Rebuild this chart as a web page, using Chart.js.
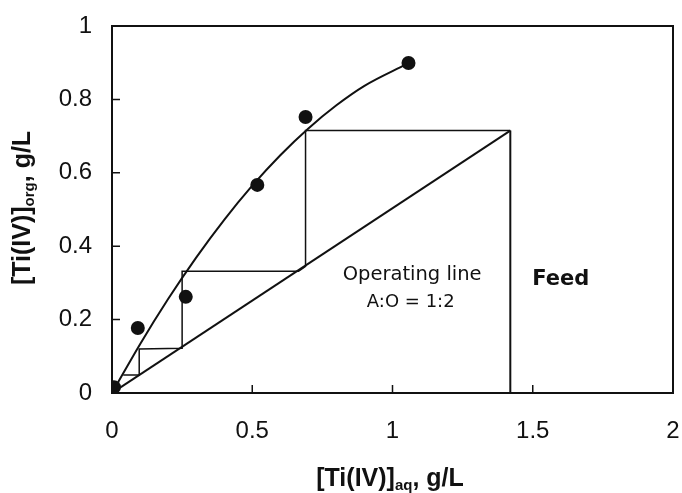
<!DOCTYPE html>
<html>
<head>
<meta charset="utf-8">
<script src="https://cdn.jsdelivr.net/npm/chart.js@4/dist/chart.umd.min.js"></script>
<style>
  html, body { margin: 0; padding: 0; background: #fff; }
  #wrap { width: 682px; height: 493px; position: relative; }
</style>
</head>
<body>
<div id="wrap"><canvas id="c" width="682" height="493"></canvas></div>
<script>
// ---- data ----
const pointsX = [0.007, 0.092, 0.263, 0.518, 0.69, 1.057];
const pointsY = [0.016, 0.177, 0.262, 0.567, 0.752, 0.899];

const curveX = [0, 0.1, 0.2, 0.3, 0.4, 0.5, 0.6, 0.7, 0.8, 0.9, 1.05];
const curveY = [0, 0.133, 0.256, 0.369, 0.472, 0.565, 0.648, 0.721, 0.784, 0.837, 0.896];

const opLineX = [0, 1.42];
const opLineY = [0, 0.715];

const stepsX = [1.42, 0.69, 0.69, 0.665, 0.25, 0.25, 0.097, 0.097, 0.04];
const stepsY = [0.715, 0.715, 0.345, 0.332, 0.332, 0.122, 0.12, 0.049, 0.049];

const feedX = [1.42, 1.42];
const feedY = [0.715, 0];

const xTicks = [0, 0.5, 1, 1.5, 2];
const xTickLabels = ["0", "0.5", "1", "1.5", "2"];
const yTicks = [0, 0.2, 0.4, 0.6, 0.8, 1];
const yTickLabels = ["0", "0.2", "0.4", "0.6", "0.8", "1"];

const xTitle = ["[Ti(IV)]", "aq", ", g/L"];
const yTitle = ["[Ti(IV)]", "org", ", g/L"];
const opLabel = ["Operating line", "A:O = 1:2"];
const feedLabel = "Feed";

const pts = (xs, ys) => xs.map((x, i) => ({ x: x, y: ys[i] }));

const overlay = {
  id: 'overlay',
  afterDraw(chart) {
    const ctx = chart.ctx;
    const a = chart.chartArea;
    const sx = chart.scales.x, sy = chart.scales.y;
    ctx.save();
    ctx.strokeStyle = '#111';
    ctx.lineWidth = 2;
    ctx.strokeRect(a.left, a.top, a.right - a.left, a.bottom - a.top);
    // inner tick marks
    ctx.lineWidth = 1.5;
    ctx.beginPath();
    xTicks.slice(1, -1).forEach(v => {
      const px = sx.getPixelForValue(v);
      ctx.moveTo(px, a.bottom); ctx.lineTo(px, a.bottom - 8);
    });
    yTicks.slice(1, -1).forEach(v => {
      const py = sy.getPixelForValue(v);
      ctx.moveTo(a.left, py); ctx.lineTo(a.left + 8, py);
    });
    ctx.stroke();

    // annotations
    ctx.fillStyle = '#111';
    ctx.textAlign = 'center';
    ctx.textBaseline = 'middle';
    ctx.font = '19.5px "DejaVu Sans"';
    ctx.fillText(opLabel[0], sx.getPixelForValue(1.07), sy.getPixelForValue(0.321));
    ctx.font = '18px "DejaVu Sans"';
    ctx.fillText(opLabel[1], sx.getPixelForValue(1.065), sy.getPixelForValue(0.246));
    ctx.font = 'bold 21px "DejaVu Sans"';
    ctx.fillText(feedLabel, sx.getPixelForValue(1.6), sy.getPixelForValue(0.31));

    // axis titles with subscripts
    const drawTitle = (parts, cx, cy, rot) => {
      ctx.save();
      ctx.translate(cx, cy);
      if (rot) ctx.rotate(-Math.PI / 2);
      const big = 'bold 25px "Liberation Sans"';
      const small = 'bold 15px "Liberation Sans"';
      ctx.font = big; const w0 = ctx.measureText(parts[0]).width;
      const w2 = ctx.measureText(parts[2]).width;
      ctx.font = small; const w1 = ctx.measureText(parts[1]).width;
      let x = -(w0 + w1 + w2) / 2;
      ctx.textAlign = 'left';
      ctx.textBaseline = 'alphabetic';
      ctx.font = big; ctx.fillText(parts[0], x, 9); x += w0;
      ctx.font = small; ctx.fillText(parts[1], x, 13); x += w1;
      ctx.font = big; ctx.fillText(parts[2], x, 9);
      ctx.restore();
    };
    drawTitle(xTitle, 390, 477, false);
    drawTitle(yTitle, 21, 208, true);
    ctx.restore();
  }
};

new Chart(document.getElementById('c'), {
  type: 'scatter',
  data: {
    datasets: [
      { data: pts(curveX, curveY), showLine: true, borderColor: '#111', borderWidth: 2,
        pointRadius: 0, cubicInterpolationMode: 'monotone', fill: false },
      { data: pts(opLineX, opLineY), showLine: true, borderColor: '#111', borderWidth: 2,
        pointRadius: 0, fill: false },
      { data: pts(stepsX, stepsY), showLine: true, borderColor: '#111', borderWidth: 1.5,
        pointRadius: 0, fill: false, tension: 0 },
      { data: pts(feedX, feedY), showLine: true, borderColor: '#111', borderWidth: 2,
        pointRadius: 0, fill: false },
      { data: pts(pointsX, pointsY), showLine: false, pointRadius: 7, pointHoverRadius: 7,
        backgroundColor: '#111', borderColor: '#111', borderWidth: 0 }
    ]
  },
  options: {
    responsive: false,
    animation: false,
    events: [],
    layout: { autoPadding: false, padding: { top: 26, right: 9, left: 0, bottom: 0 } },
    plugins: { legend: { display: false }, tooltip: { enabled: false } },
    scales: {
      x: {
        type: 'linear', min: 0, max: 2,
        afterBuildTicks: s => { s.ticks = xTicks.map(v => ({ value: v })); },
        afterFit: s => { s.height = 100; s.paddingLeft = 0; s.paddingRight = 0; },
        grid: { display: false, drawTicks: false },
        border: { display: false },
        ticks: { color: '#111', padding: 24, font: { family: 'Liberation Sans', size: 24 },
                 maxRotation: 0, autoSkip: false,
                 callback: (v) => xTickLabels[xTicks.indexOf(v)] }
      },
      y: {
        type: 'linear', min: 0, max: 1,
        afterBuildTicks: s => { s.ticks = yTicks.map(v => ({ value: v })); },
        afterFit: s => { s.width = 112; s.paddingTop = 0; s.paddingBottom = 0; },
        grid: { display: false, drawTicks: false },
        border: { display: false },
        ticks: { color: '#111', padding: 20, font: { family: 'Liberation Sans', size: 24 },
                 callback: (v) => yTickLabels[yTicks.indexOf(v)] }
      }
    }
  },
  plugins: [overlay]
});
</script>
</body>
</html>
